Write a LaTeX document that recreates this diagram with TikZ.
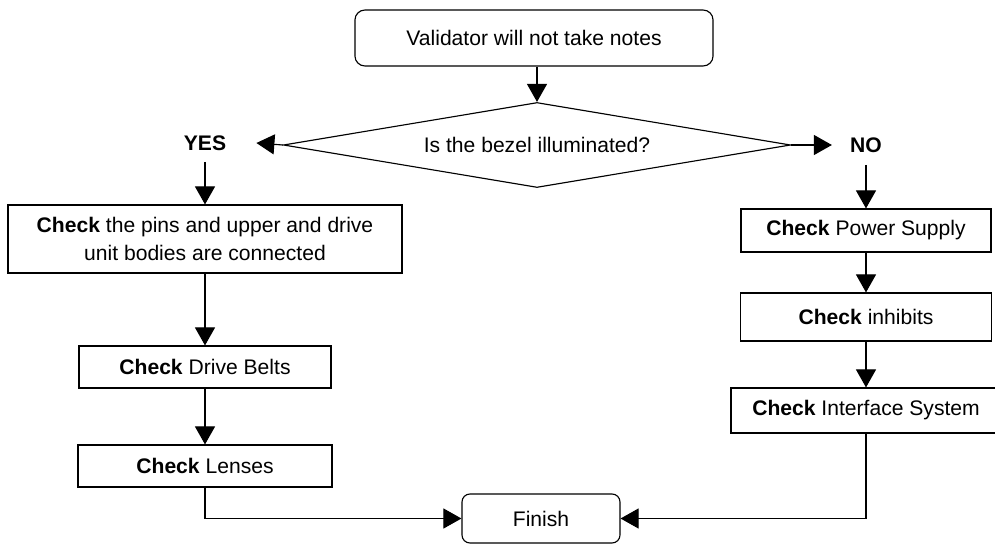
\documentclass[tikz,border=0pt]{standalone}
\usepackage{fontspec}
\setmainfont{Liberation Sans}
\usetikzlibrary{arrows.meta, shapes.geometric}

\begin{document}
\begin{tikzpicture}[x = 0.025cm, y = -0.025cm,
        flowbox/.style = {draw, line width = 0.8pt, inner sep = 0pt, align = center},
        flowarrow/.style = {line width = 0.8pt, -{Triangle[length = 0.45cm, width = 0.5cm]}}]
            \clip (0,0) rectangle (995,545);
            \begin{scope}[every node/.append style = {font = \fontsize{15}{20}\selectfont}]
                \node[flowbox, rounded corners = 0.25cm, minimum width = 8.95cm, minimum height = 1.4cm] (start) at (534,38) {Validator will not take notes};
                \node[flowbox, diamond, aspect = 6, minimum width = 12.675cm, minimum height = 2.125cm] (bezel) at (537,145) {Is the bezel illuminated?};
                \node[font = \fontsize{15}{20}\selectfont\bfseries, inner xsep = 0.75cm, inner ysep = 0.28cm] (yes) at (205,143) {YES};
                \node[font = \fontsize{15}{20}\selectfont\bfseries, inner xsep = 0.45cm, inner ysep = 0.3cm] (no) at (866,145) {NO};
                % left branch
                \node[flowbox, minimum width = 9.85cm, minimum height = 1.7cm] (pins) at (205,239) {\textbf{Check} the pins and upper and drive\\unit bodies are connected};
                \node[flowbox, minimum width = 6.3cm, minimum height = 1.05cm] (belts) at (205,367) {\textbf{Check} Drive Belts};
                \node[flowbox, minimum width = 6.35cm, minimum height = 1.05cm] (lenses) at (205,466) {\textbf{Check} Lenses};
                % right branch
                \node[flowbox, minimum width = 6.25cm, minimum height = 1.075cm] (power) at (866,230.5) {\textbf{Check} Power Supply};
                \node[flowbox, minimum width = 6.275cm, minimum height = 1.2cm] (inhibits) at (866,317) {\textbf{Check} inhibits};
                \node[flowbox, minimum width = 6.75cm, minimum height = 1.125cm] (iface) at (866,410.5) {\textbf{Check} Interface System};
                \node[flowbox, rounded corners = 0.2cm, minimum width = 3.95cm, minimum height = 1.225cm] (finish) at (541,518.5) {Finish};
            \end{scope}
            \draw[flowarrow] (start.south -| bezel.north) -- (bezel.north);
            \draw[flowarrow] (bezel.west) -- (yes.east);
            \draw[flowarrow] (bezel.east) -- (no.west);
            \draw[flowarrow] (yes.south) -- (pins.north);
            \draw[flowarrow] (pins.south) -- (belts.north);
            \draw[flowarrow] (belts.south) -- (lenses.north);
            \draw[flowarrow] (lenses.south) |- (finish.west);
            \draw[flowarrow] (no.south) -- (power.north);
            \draw[flowarrow] (power.south) -- (inhibits.north);
            \draw[flowarrow] (inhibits.south) -- (iface.north);
            \draw[flowarrow] (iface.south) |- (finish.east);
        \end{tikzpicture}
\end{document}
